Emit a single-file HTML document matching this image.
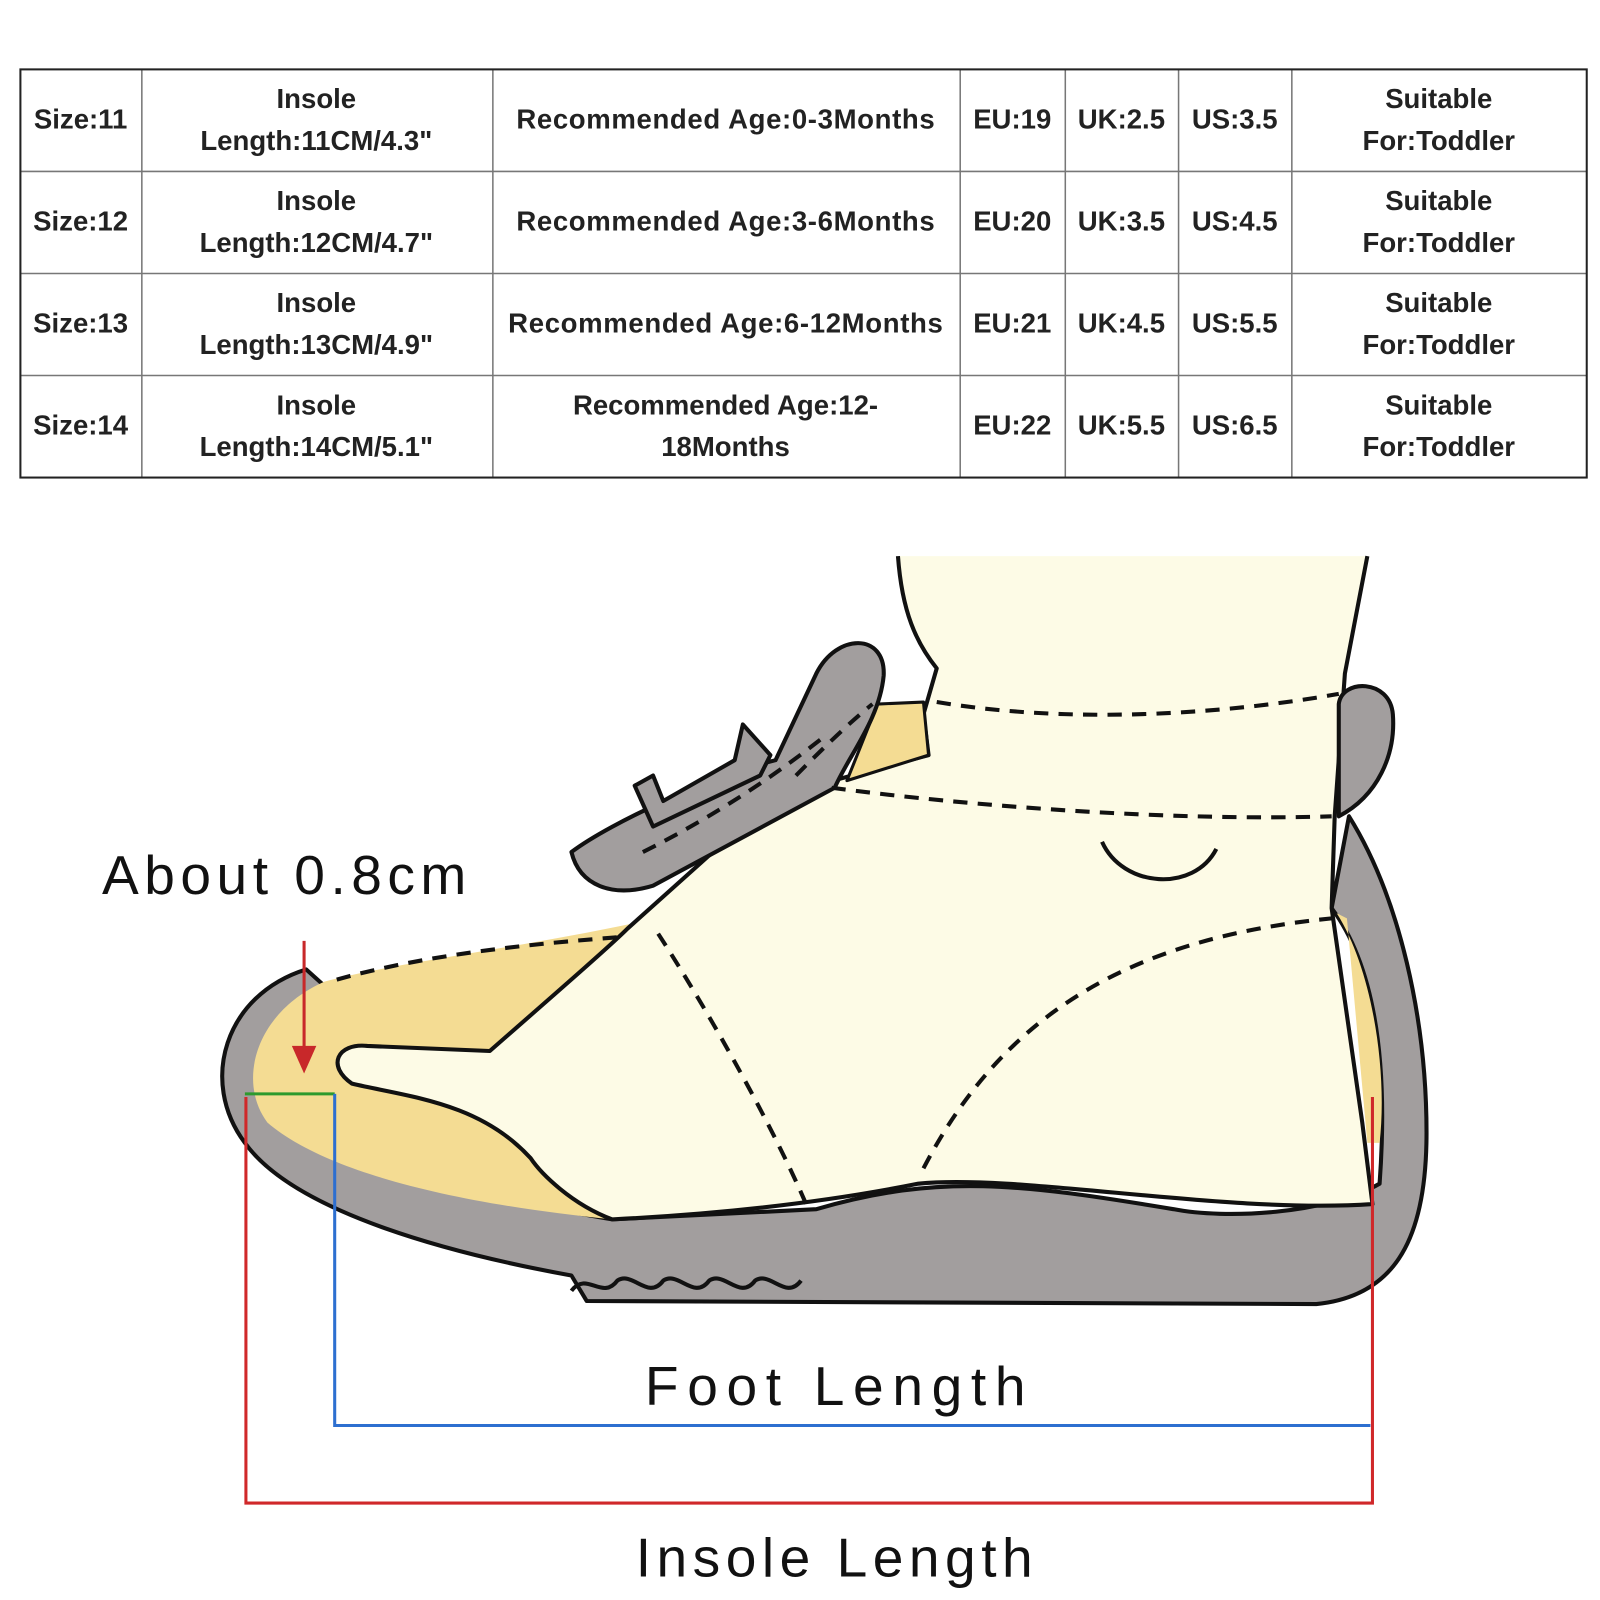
<!DOCTYPE html>
<html><head><meta charset="utf-8"><style>html,body{margin:0;padding:0;background:#fff}svg{display:block}</style></head>
<body>
<svg width="1600" height="1600" viewBox="0 0 1568 1568" xmlns="http://www.w3.org/2000/svg" font-family="Liberation Sans, sans-serif">
<rect width="1568" height="1568" fill="#fff"/>
<!-- table -->
<g stroke="#777" stroke-width="1.5" fill="none">
<line x1="20" y1="168" x2="1555" y2="168"/><line x1="20" y1="268" x2="1555" y2="268"/><line x1="20" y1="368" x2="1555" y2="368"/>
<line x1="139" y1="68" x2="139" y2="468"/><line x1="483" y1="68" x2="483" y2="468"/><line x1="941" y1="68" x2="941" y2="468"/>
<line x1="1044" y1="68" x2="1044" y2="468"/><line x1="1155" y1="68" x2="1155" y2="468"/><line x1="1266" y1="68" x2="1266" y2="468"/>
</g>
<rect x="20" y="68" width="1535" height="400" fill="none" stroke="#222" stroke-width="2"/>
<g font-size="27" font-weight="bold" fill="#222" text-anchor="middle">
<text x="79" y="126">Size:11</text><text x="79" y="226">Size:12</text><text x="79" y="326">Size:13</text><text x="79" y="426">Size:14</text>
<text x="310" y="106">Insole</text><text x="310" y="147">Length:11CM/4.3"</text>
<text x="310" y="206">Insole</text><text x="310" y="247">Length:12CM/4.7"</text>
<text x="310" y="306">Insole</text><text x="310" y="347">Length:13CM/4.9"</text>
<text x="310" y="406">Insole</text><text x="310" y="447">Length:14CM/5.1"</text>
<text x="711" y="126" textLength="410">Recommended Age:0-3Months</text>
<text x="711" y="226" textLength="410">Recommended Age:3-6Months</text>
<text x="711" y="326" textLength="426">Recommended Age:6-12Months</text>
<text x="711" y="406">Recommended Age:12-</text><text x="711" y="447">18Months</text>
<text x="992" y="126">EU:19</text><text x="992" y="226">EU:20</text><text x="992" y="326">EU:21</text><text x="992" y="426">EU:22</text>
<text x="1099" y="126">UK:2.5</text><text x="1099" y="226">UK:3.5</text><text x="1099" y="326">UK:4.5</text><text x="1099" y="426">UK:5.5</text>
<text x="1210" y="126">US:3.5</text><text x="1210" y="226">US:4.5</text><text x="1210" y="326">US:5.5</text><text x="1210" y="426">US:6.5</text>
<text x="1410" y="106">Suitable</text><text x="1410" y="147">For:Toddler</text>
<text x="1410" y="206">Suitable</text><text x="1410" y="247">For:Toddler</text>
<text x="1410" y="306">Suitable</text><text x="1410" y="347">For:Toddler</text>
<text x="1410" y="406">Suitable</text><text x="1410" y="447">For:Toddler</text>
</g>
<!-- shoe -->
<g stroke="#111" stroke-width="4" stroke-linejoin="round">
<path d="M300 950 C220 975 195 1060 240 1120 C290 1190 450 1230 560 1250 L575 1275 L1290 1278 C1370 1270 1398 1210 1398 1110 C1398 1000 1372 880 1322 800 L1305 890 C1350 950 1360 1050 1352 1160 C1300 1190 1200 1195 1150 1185 C1000 1160 920 1150 800 1185 L600 1195 C450 1170 340 1130 300 1090 C260 1060 262 1000 320 968 Z" fill="#a29e9e"/>
<path d="M318 962 C250 992 232 1060 262 1100 C320 1150 450 1180 600 1195 L620 905 C500 930 380 945 318 962 Z" fill="#f4dc93" stroke="none"/>
<path d="M1310 895 C1345 950 1360 1050 1352 1120 L1340 1120 L1320 900 Z" fill="#f4dc93" stroke="none"/>
<path d="M880 545 L1340 545 L1318 660 L1308 800 L1305 890 L1335 1100 L1345 1180 C1200 1190 1000 1150 900 1160 C800 1180 700 1190 600 1195 C560 1180 530 1150 520 1135 C470 1080 400 1075 345 1062 C320 1045 330 1022 360 1025 L480 1030 C560 960 600 925 615 910 L760 780 L910 740 L905 700 L918 655 C898 630 884 600 880 545" fill="#fdfbe6" stroke="none"/>
<path d="M1340 545 L1318 660 L1308 800 L1305 890 L1335 1100 L1345 1180 C1200 1190 1000 1150 900 1160 C800 1180 700 1190 600 1195 C560 1180 530 1150 520 1135 C470 1080 400 1075 345 1062 C320 1045 330 1022 360 1025 L480 1030 C560 960 600 925 615 910 L760 780 L910 740 L905 700 L918 655 C898 630 884 600 880 545" fill="none"/>
<path d="M860 690 L905 688 L910 740 L830 765 Z" fill="#f4dc93" stroke-width="3"/>
<path d="M560 835 C600 805 700 760 760 745 L800 660 C820 620 868 620 866 662 C862 705 832 740 818 772 L640 868 C600 880 568 868 560 835 Z" fill="#a29e9e"/>
<path d="M622 770 L640 760 L650 785 L720 745 L728 710 L755 740 L745 760 L640 810 Z" fill="#a29e9e"/>
<path d="M1312 690 C1315 665 1362 665 1365 700 C1368 740 1350 780 1312 800 Z" fill="#a29e9e"/>
<path d="M560 1265 C575 1245 590 1275 605 1255 C620 1245 635 1275 650 1255 C665 1245 680 1275 695 1255 C710 1245 725 1275 740 1255 C755 1245 770 1275 785 1255" fill="none" stroke-width="4"/>
</g>
<g stroke="#111" stroke-width="4" fill="none" stroke-dasharray="14 10">
<path d="M330 960 C420 935 520 925 612 918"/>
<path d="M918 688 C1050 710 1200 700 1312 680"/>
<path d="M815 772 C950 790 1150 805 1305 800"/>
<path d="M645 915 C700 1000 760 1110 790 1180"/>
<path d="M905 1145 C980 1000 1100 920 1305 900"/>
<path d="M630 835 C700 800 760 760 810 720"/>
<path d="M780 760 C800 740 830 710 855 690"/>
</g>
<path d="M1080 825 C1100 870 1170 875 1192 832" stroke="#111" stroke-width="4" fill="none"/>
<!-- measurement lines -->
<line x1="298" y1="922" x2="298" y2="1030" stroke="#c8282a" stroke-width="3"/>
<path d="M286 1025 L298 1052 L310 1025 Z" fill="#c8282a"/>
<line x1="240" y1="1072" x2="328" y2="1072" stroke="#2d9a2d" stroke-width="3"/>
<path d="M328 1072 L328 1397 L1343 1397" stroke="#2d6fd0" stroke-width="3" fill="none"/>
<path d="M241 1075 L241 1473 L1345 1473 L1345 1075" stroke="#d0282a" stroke-width="3" fill="none"/>
<g fill="#111" font-size="54">
<text x="100" y="876" textLength="357" lengthAdjust="spacing">About 0.8cm</text>
<text x="632" y="1377" textLength="373" lengthAdjust="spacing">Foot Length</text>
<text x="623" y="1545" textLength="389" lengthAdjust="spacing">Insole Length</text>
</g>
</svg>
</body></html>
